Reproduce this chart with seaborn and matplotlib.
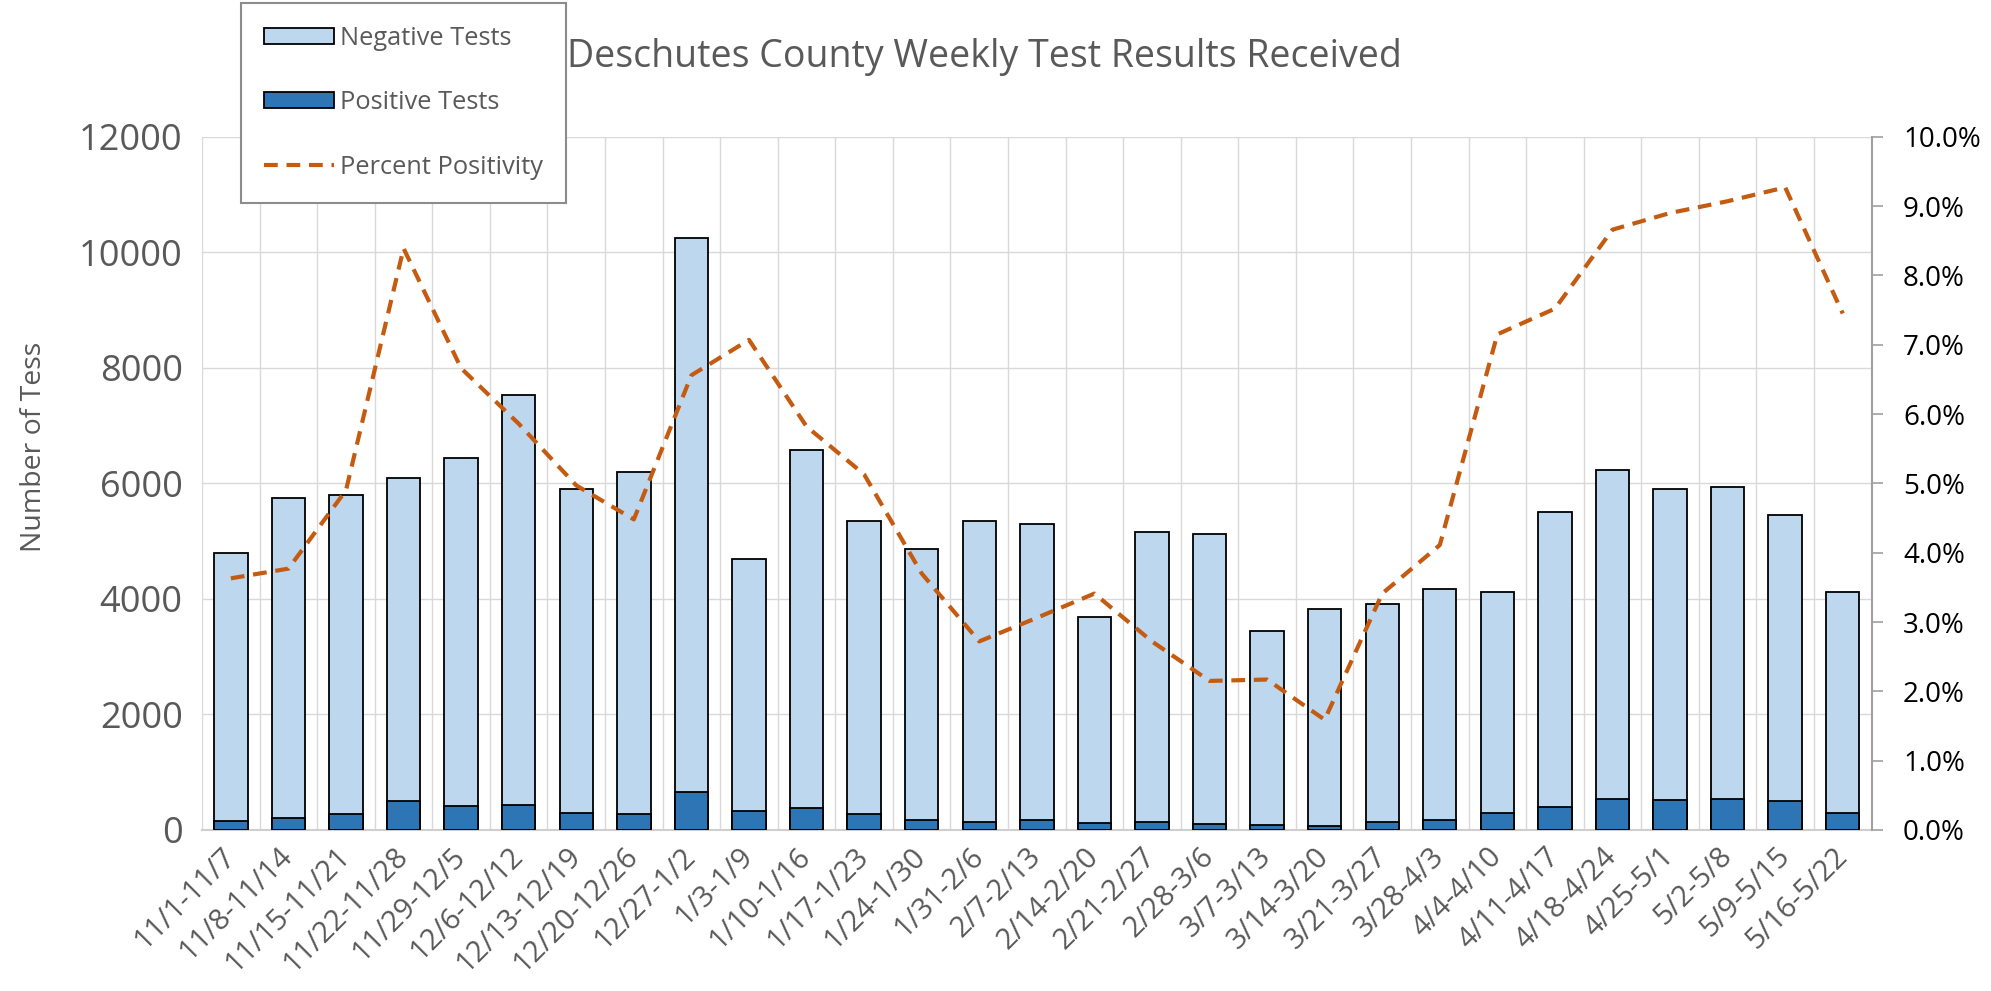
import numpy as np
import pandas as pd
import matplotlib
matplotlib.use("Agg")
import matplotlib.pyplot as plt
import seaborn as sns
from matplotlib.patches import Patch
from matplotlib.lines import Line2D
from matplotlib.ticker import FuncFormatter, MultipleLocator

weeks = ["11/1-11/7", "11/8-11/14", "11/15-11/21", "11/22-11/28", "11/29-12/5",
         "12/6-12/12", "12/13-12/19", "12/20-12/26", "12/27-1/2", "1/3-1/9",
         "1/10-1/16", "1/17-1/23", "1/24-1/30", "1/31-2/6", "2/7-2/13",
         "2/14-2/20", "2/21-2/27", "2/28-3/6", "3/7-3/13", "3/14-3/20",
         "3/21-3/27", "3/28-4/3", "4/4-4/10", "4/11-4/17", "4/18-4/24",
         "4/25-5/1", "5/2-5/8", "5/9-5/15", "5/16-5/22"]
negative_tests = [4630, 5533, 5530, 5605, 6025, 7088, 5620, 5930, 9603, 4360,
                  6195, 5085, 4695, 5210, 5138, 3558, 5007, 5019, 3361, 3768,
                  3780, 4003, 3831, 5105, 5706, 5393, 5403, 4950, 3825]
positive_tests = [160, 207, 270, 495, 415, 437, 285, 270, 652, 325,
                  380, 270, 175, 145, 167, 127, 143, 111, 79, 62,
                  135, 167, 294, 405, 532, 517, 540, 500, 300]
percent_positivity = [3.63, 3.77, 4.90, 8.39, 6.66, 5.86, 4.97, 4.48, 6.56, 7.07,
                      5.82, 5.13, 3.70, 2.72, 3.06, 3.41, 2.72, 2.15, 2.17, 1.59,
                      3.41, 4.11, 7.15, 7.52, 8.66, 8.90, 9.07, 9.27, 7.45]

NEG = "#BDD7EE"
POS = "#2E75B6"
LINE = "#C55A11"
GRAY = "#595959"
GRID = "#D9D9D9"

sns.set_theme(style="white")
plt.rcParams["font.family"] = ["Open Sans", "DejaVu Sans"]

df = pd.DataFrame({"week": weeks, "negative": negative_tests,
                   "positive": positive_tests, "pct": percent_positivity})
df["total"] = df["negative"] + df["positive"]
df["idx"] = np.arange(len(df))
n = len(df)

fig = plt.figure(figsize=(19.91, 9.91), dpi=100)
ax = fig.add_axes([0.1015, 0.1625, 0.8385, 0.6995])

sns.barplot(data=df, x="week", y="total", color=NEG, saturation=1, width=0.58,
            edgecolor="black", linewidth=1.3, ax=ax, zorder=2)
sns.barplot(data=df, x="week", y="positive", color=POS, saturation=1, width=0.58,
            edgecolor="black", linewidth=1.3, ax=ax, zorder=3)

ax.set_ylim(0, 12000)
ax.yaxis.set_major_locator(MultipleLocator(2000))
ax.set_xticks(np.arange(-0.5, n, 1.0), minor=True)
ax.set_axisbelow(True)
ax.grid(axis="y", which="major", color=GRID, linewidth=1.0)
ax.grid(axis="x", which="minor", color=GRID, linewidth=1.0)
ax.grid(axis="x", which="major", visible=False)
for s in ["left", "top", "right"]:
    ax.spines[s].set_visible(False)
ax.spines["bottom"].set_color("#CFCFCF")
ax.spines["bottom"].set_linewidth(1.5)
ax.tick_params(axis="y", which="both", length=0, pad=14, labelsize=26, labelcolor=GRAY)
ax.tick_params(axis="x", which="both", length=0, pad=16, labelsize=21, labelcolor=GRAY)
for lab in ax.get_xticklabels():
    lab.set_rotation(45)
    lab.set_ha("right")
    lab.set_va("center")
    lab.set_rotation_mode("anchor")
ax.set_xlabel("")
ax.set_ylabel("Number of Tess", fontsize=20.5, color=GRAY)
ax.yaxis.set_label_coords(-0.092, 0.553)

ax2 = ax.twinx()
sns.lineplot(data=df, x="idx", y="pct", ax=ax2, color=LINE, linewidth=3.0,
             linestyle=(0, (3.3, 2.1)), zorder=5)
ax2.set_ylim(0, 10)
ax2.yaxis.set_major_locator(MultipleLocator(1))
ax2.yaxis.set_major_formatter(FuncFormatter(lambda v, p: f"{v:.1f}%"))
ax2.set_xlabel("")
ax2.set_ylabel("")
for s in ["left", "top", "bottom"]:
    ax2.spines[s].set_visible(False)
ax2.spines["right"].set_color("#A0A0A0")
ax2.spines["right"].set_linewidth(1.5)
ax2.tick_params(axis="y", direction="out", length=7.7, width=1.2, color="#A0A0A0",
                pad=15, labelsize=20, labelcolor="black")
ax2.grid(False)
ax.set_xlim(-0.5, n - 0.5)

fig.text(984 / 1991, 1 - 57 / 991, "Deschutes County Weekly Test Results Received",
         ha="center", va="center", fontsize=27, color=GRAY)

handles = [Patch(facecolor=NEG, edgecolor="black", linewidth=1.3),
           Patch(facecolor=POS, edgecolor="black", linewidth=1.3),
           Line2D([0], [0], color=LINE, linewidth=3.0, linestyle=(0, (3.3, 2.1)))]
leg = fig.legend(handles, ["Negative Tests", "Positive Tests", "Percent Positivity"],
                 loc="upper left", bbox_to_anchor=(241 / 1991, 1 - 3 / 991),
                 borderaxespad=0, fontsize=18.3, frameon=True, fancybox=False,
                 framealpha=1, edgecolor="#8C8C8C", handlelength=2.75,
                 handleheight=0.6, handletextpad=0.25, labelspacing=1.55,
                 borderpad=0.9, labelcolor=GRAY)
leg.get_frame().set_linewidth(1.5)

fig.savefig("out.png", dpi=100)
